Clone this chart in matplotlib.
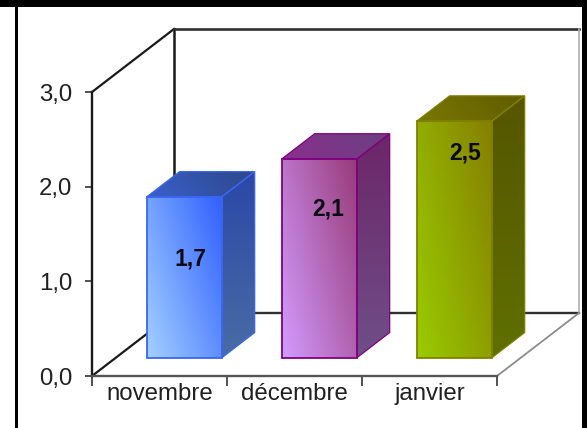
import numpy as np
import matplotlib
matplotlib.use("Agg")
import matplotlib.pyplot as plt
from matplotlib.colors import LinearSegmentedColormap
from matplotlib.patches import Polygon, Rectangle

plt.rcParams['font.family'] = ['Liberation Sans', 'DejaVu Sans']

# data
months = ['novembre', 'décembre', 'janvier']
values = [1.7, 2.1, 2.5]
value_labels = ['1,7', '2,1', '2,5']
y_ticks = [0, 1, 2, 3]
y_tick_labels = ['0,0', '1,0', '2,0', '3,0']

# colours: front (light, dark), side (top, bottom), top (left, right), edge
front_cols = [('#a3d0ff', '#3060ff'), ('#d29cff', '#983a78'), ('#99cc00', '#867f00')]
side_cols = [('#2a48a8', '#4a6ca4'), ('#6c2668', '#6f4f88'), ('#565600', '#5f7000')]
top_cols = [('#3a60cc', '#2d4788'), ('#8a2f8e', '#6a4080'), ('#787800', '#605c00')]
edge_cols = ['#3a66f0', '#800080', '#808000']

W, H = 587, 428
X0, X3, Y0, Y3 = 92, 497, 376, 92   # pixel places of the front axes
ux = (X3 - X0) / 3.0
uy = (Y0 - Y3) / 3.0
DX = 82 / ux    # floor depth in data units
DY = 63 / uy
bar_w = 0.556
bar_shift = 0.008
d_front = 0.29
d_back = 0.69

fig = plt.figure(figsize=(W / 100, H / 100), dpi=100, facecolor='white')
ax = fig.add_axes([0, 0, 1, 1])
xlim = (-X0 / ux, (W - X0) / ux)
ylim = ((Y0 - H) / uy, Y0 / uy)
ax.patch.set_visible(False)


def proj(x, y, d):
    # oblique projection, d=0 front of the floor, d=1 back wall
    return x + d * DX, y + d * DY


def face(pts, c1, c2, angle, z=3):
    # gradient filled polygon, the image gets clipped to the polygon
    pts = np.array(pts)
    x0, x1 = pts[:, 0].min(), pts[:, 0].max()
    y0, y1 = pts[:, 1].min(), pts[:, 1].max()
    xx, yy = np.meshgrid(np.linspace(0, 1, 60), np.linspace(0, 1, 120))
    t = xx * np.cos(angle) + yy * np.sin(angle)
    t = (t - t.min()) / (t.max() - t.min())
    cmap = LinearSegmentedColormap.from_list('g', [c1, c2])
    im = ax.imshow(t, extent=(x0, x1, y0, y1), origin='lower', cmap=cmap,
                   aspect='auto', zorder=z, interpolation='bilinear')
    poly = Polygon(pts, closed=True, transform=ax.transData, fc='none', ec='none')
    ax.add_patch(poly)
    im.set_clip_path(poly)


# walls and floor
wall = '#1a1a1a'
grey = '#8c8c8c'
ax.plot(*zip(proj(0, 0, 0), proj(0, 0, 1)), color=wall, lw=1.6, zorder=1)
ax.plot(*zip(proj(0, 3, 0), proj(0, 3, 1)), color=wall, lw=1.6, zorder=1)
ax.plot(*zip(proj(0, 0, 1), proj(0, 3, 1)), color=wall, lw=1.8, zorder=1)
ax.plot(*zip(proj(0, 3, 1), proj(3, 3, 1)), color='#303030', lw=1.9, zorder=1)
ax.plot(*zip(proj(0, 0, 1), proj(3, 0, 1)), color='#303030', lw=1.7, zorder=1)
ax.plot(*zip(proj(3, 0, 1), proj(3, 3, 1)), color='#b0b0b0', lw=1.2, zorder=1)
ax.plot(*zip(proj(3, 0, 0), proj(3, 0, 1)), color=grey, lw=1.3, zorder=1)

# bars
for i, v in enumerate(values):
    xl = i + 0.5 - bar_w / 2 + bar_shift
    xr = i + 0.5 + bar_w / 2 + bar_shift
    fl = proj(xl, 0, d_front)
    fr = proj(xr, 0, d_front)
    tl = proj(xl, v, d_front)
    tr = proj(xr, v, d_front)
    br = proj(xr, 0, d_back)
    tbr = proj(xr, v, d_back)
    tbl = proj(xl, v, d_back)
    face([fl, fr, tr, tl], front_cols[i][0], front_cols[i][1], 0.6)
    face([fr, br, tbr, tr], side_cols[i][1], side_cols[i][0], np.pi / 2)
    face([tl, tr, tbr, tbl], top_cols[i][0], top_cols[i][1], 0.2)
    ax.add_patch(Polygon([fl, fr, tr, tl], fc='none', ec=edge_cols[i], lw=1.3, zorder=4))
    ax.add_patch(Polygon([fr, br, tbr, tr], fc='none', ec=edge_cols[i], lw=0.9, zorder=4))
    ax.add_patch(Polygon([tl, tr, tbr, tbl], fc='none', ec=edge_cols[i], lw=0.9, zorder=4))

# value labels
label_x = [0.555, 0.57, 0.59]
label_drop = [0.66, 0.53, 0.34]
for i, v in enumerate(values):
    x, y = proj(i + label_x[i], v - label_drop[i], d_front)
    ax.text(x, y, value_labels[i], ha='center', va='center', fontsize=16.5,
            fontweight='bold', color='#0a0a14', zorder=5)

# axes
ax.set_xlim(xlim)
ax.set_ylim(ylim)
for s in ['top', 'right']:
    ax.spines[s].set_visible(False)
ax.spines['left'].set_position(('data', 0))
ax.spines['bottom'].set_position(('data', 0))
ax.spines['left'].set_bounds(0, 3)
ax.spines['bottom'].set_bounds(0, 3)
ax.spines['left'].set_color('#1a1a1a')
ax.spines['bottom'].set_color('#555555')
ax.spines['left'].set_linewidth(1.7)
ax.spines['bottom'].set_linewidth(1.7)
ax.set_yticks(y_ticks)
ax.set_yticklabels(y_tick_labels, fontsize=17.3, color='#202020')
ax.set_xticks(range(len(months) + 1))
ax.set_xticklabels([''] * (len(months) + 1))
ax.set_xticks(np.arange(len(months)) + 0.5, minor=True)
ax.set_xticklabels(months, minor=True, fontsize=17.3, color='#202020')
ax.tick_params(axis='y', length=5, width=1.2, color='#333333', pad=9)
ax.tick_params(axis='x', which='major', length=7, width=1.2, color='#333333', direction='out')
ax.tick_params(axis='x', which='minor', length=0, pad=5)

# black frame of the picture
fig.add_artist(Rectangle((0, 1 - 7 / H), 1, 7 / H, transform=fig.transFigure, fc='black', ec='none'))
fig.add_artist(Rectangle((15 / W, 0), 2.5 / W, 1, transform=fig.transFigure, fc='black', ec='none'))
fig.add_artist(Rectangle((582 / W, 0), 5 / W, 1, transform=fig.transFigure, fc='black', ec='none'))

fig.savefig('out.png', dpi=100)
plt.close()
